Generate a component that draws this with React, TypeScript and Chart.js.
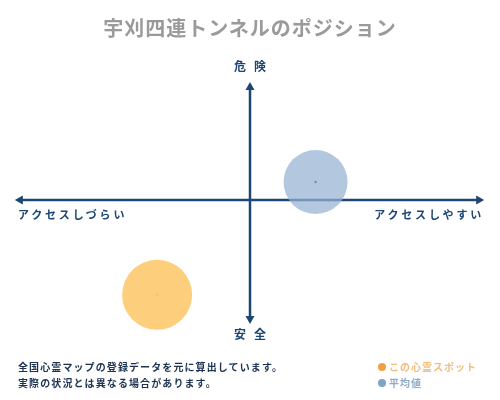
import { useEffect, useRef, type FC, type CSSProperties } from 'react';
import { Chart, registerables, type Plugin } from 'chart.js';

Chart.register(...registerables);

// values on a -1..1 grid (x: access, y: danger)
const spotPoint = { x: -0.432, y: -0.79 };
const averagePoint = { x: 0.305, y: 0.15 };
const spotRadius = 35;
const averageRadius = 32;
// how far the arrows run past the bubble grid
const axisReachX = 1.094;
const axisReachY = 1.0;

const titleText = '宇刈四連トンネルのポジション';
const axisTop = '危険';
const axisBottom = '安全';
const axisLeft = 'アクセスしづらい';
const axisRight = 'アクセスしやすい';
const footerLines = ['全国心霊マップの登録データを元に算出しています。', '実際の状況とは異なる場合があります。'];
const legendLabels = ['この心霊スポット', '平均値'];

const NAVY = '#1d4673';
const FONT = '"Noto Sans CJK JP", serif';

const crossAxes: Plugin<'bubble'> = {
  id: 'crossAxes',
  beforeDatasetsDraw(chart) {
    const { ctx, scales } = chart;
    const cx = scales.x.getPixelForValue(0);
    const cy = scales.y.getPixelForValue(0);
    const top = scales.y.getPixelForValue(axisReachY) + 2;
    const bottom = scales.y.getPixelForValue(-axisReachY) + 4;
    const left = scales.x.getPixelForValue(-axisReachX);
    const right = scales.x.getPixelForValue(axisReachX) - 1;
    ctx.save();
    ctx.strokeStyle = NAVY;
    ctx.fillStyle = NAVY;
    ctx.lineWidth = 2.5;
    ctx.beginPath();
    ctx.moveTo(cx, top + 6);
    ctx.lineTo(cx, bottom - 6);
    ctx.moveTo(left + 6, cy);
    ctx.lineTo(right - 6, cy);
    ctx.stroke();
    const head = (x: number, y: number, dx: number, dy: number) => {
      ctx.beginPath();
      ctx.moveTo(x, y);
      ctx.lineTo(x - dx * 8 + dy * 4.5, y - dy * 8 + dx * 4.5);
      ctx.lineTo(x - dx * 8 - dy * 4.5, y - dy * 8 - dx * 4.5);
      ctx.closePath();
      ctx.fill();
    };
    head(cx, top, 0, -1);
    head(cx, bottom, 0, 1);
    head(left, cy, -1, 0);
    head(right, cy, 1, 0);
    ctx.restore();
  },
};

const BubbleChart: FC = () => {
  const canvasRef = useRef<HTMLCanvasElement>(null);

  useEffect(() => {
    if (canvasRef.current === null) return undefined;
    const chart = new Chart(canvasRef.current, {
      type: 'bubble',
      data: {
        datasets: [
          {
            label: legendLabels[1],
            data: [{ ...averagePoint, r: averageRadius }],
            backgroundColor: 'rgba(150, 178, 210, 0.72)',
            borderWidth: 0,
            clip: false,
          },
          {
            label: legendLabels[0],
            data: [{ ...spotPoint, r: spotRadius }],
            backgroundColor: 'rgba(253, 202, 112, 0.92)',
            borderWidth: 0,
            clip: false,
          },
          {
            label: 'avg-center',
            data: [{ ...averagePoint, r: 1.2 }],
            backgroundColor: '#1b2f48',
            borderWidth: 0,
            clip: false,
          },
          {
            label: 'spot-center',
            data: [{ ...spotPoint, r: 2 }],
            backgroundColor: '#f0a030',
            borderWidth: 0,
            clip: false,
          },
        ],
      },
      options: {
        animation: false,
        responsive: false,
        devicePixelRatio: 1,
        layout: { padding: { left: 17, right: 17, top: 80, bottom: 80 } },
        scales: {
          x: { type: 'linear', min: -1, max: 1, display: false },
          y: { type: 'linear', min: -1, max: 1, display: false },
        },
        plugins: {
          legend: { display: false },
          tooltip: { enabled: false },
        },
      },
      plugins: [crossAxes],
    });
    return () => { chart.destroy(); };
  }, []);

  return <canvas ref={canvasRef} width={500} height={400} style={{ position: 'absolute', left: 0, top: 0 }} />;
};

const abs = (s: CSSProperties): CSSProperties => ({ position: 'absolute', whiteSpace: 'nowrap', fontFamily: FONT, fontWeight: 700, lineHeight: 1, ...s });

export default function App() {
  return (
    <div style={{ position: 'absolute', left: 0, top: 0, width: 500, height: 400, background: '#fff', overflow: 'hidden' }}>
      <BubbleChart />
      <div style={abs({ left: 0, width: 500, top: 18, textAlign: 'center', fontSize: 20, letterSpacing: 1, color: '#9a9a9a' })}>{titleText}</div>
      <div style={abs({ left: 0, width: 500, top: 60, textAlign: 'center', fontSize: 12, letterSpacing: 8, textIndent: 8, color: NAVY })}>{axisTop}</div>
      <div style={abs({ left: 0, width: 500, top: 328, textAlign: 'center', fontSize: 12, letterSpacing: 8, textIndent: 8, color: NAVY })}>{axisBottom}</div>
      <div style={abs({ left: 18, top: 209, fontSize: 11, letterSpacing: 2.8, color: NAVY })}>{axisLeft}</div>
      <div style={abs({ right: 16, top: 209, fontSize: 11, letterSpacing: 2.8, color: NAVY })}>{axisRight}</div>
      {footerLines.map((line, i) => (
        <div key={line} style={abs({ left: 18, top: 362 + i * 16, fontSize: 10, letterSpacing: 1.1, color: '#1c3352' })}>{line}</div>
      ))}
      {legendLabels.map((label, i) => (
        <div key={label} style={abs({ left: 378, top: 362 + i * 16, fontSize: 10, letterSpacing: 1, color: i === 0 ? '#f2bd7a' : '#8eabc8', display: 'flex', alignItems: 'center' })}>
          <span style={{ display: 'inline-block', width: 8, height: 8, borderRadius: 4, marginRight: 3, background: i === 0 ? '#f0a040' : '#7ea3c6' }} />
          {label}
        </div>
      ))}
    </div>
  );
}
